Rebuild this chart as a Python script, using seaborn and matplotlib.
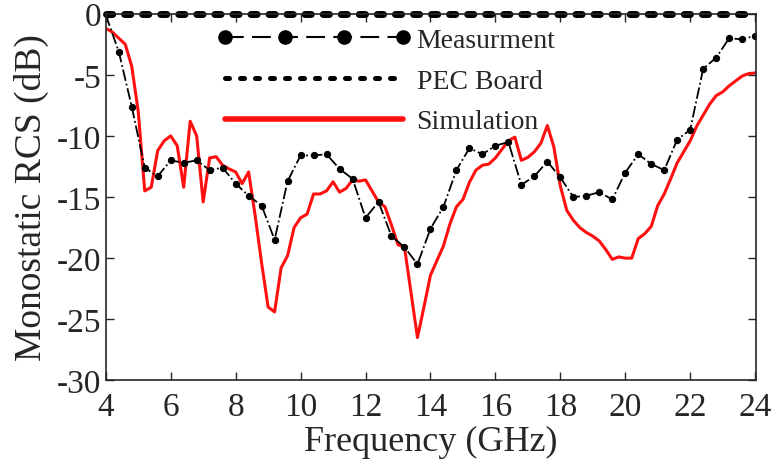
import numpy as np
import pandas as pd
import matplotlib
matplotlib.use("Agg")
import matplotlib.pyplot as plt
from matplotlib.lines import Line2D
import seaborn as sns

# measured RCS, 0.4 GHz steps
meas_freq = [4.0, 4.4, 4.8, 5.2, 5.6, 6.0, 6.4, 6.8, 7.2, 7.6, 8.0, 8.4, 8.8, 9.2, 9.6,
             10.0, 10.4, 10.8, 11.2, 11.6, 12.0, 12.4, 12.8, 13.2, 13.6, 14.0, 14.4, 14.8,
             15.2, 15.6, 16.0, 16.4, 16.8, 17.2, 17.6, 18.0, 18.4, 18.8, 19.2, 19.6, 20.0,
             20.4, 20.8, 21.2, 21.6, 22.0, 22.4, 22.8, 23.2, 23.6, 24.0]
meas_rcs = [-0.1, -3.1, -7.6, -12.6, -13.3, -12.0, -12.2, -12.0, -12.8, -12.6, -13.9,
            -14.9, -15.7, -18.5, -13.7, -11.6, -11.6, -11.5, -12.7, -13.5, -16.7, -15.4,
            -18.2, -19.1, -20.5, -17.6, -15.8, -12.8, -11.0, -11.5, -10.8, -10.5, -14.0,
            -13.3, -12.1, -13.4, -15.0, -14.9, -14.6, -15.2, -13.0, -11.5, -12.3, -12.8,
            -10.3, -9.5, -4.5, -3.6, -2.0, -2.1, -1.8]

# simulated RCS, 0.2 GHz steps
sim_freq = [round(4.0 + 0.2 * i, 1) for i in range(101)]
sim_rcs = [-1.2, -1.5, -2.0, -2.5, -4.3, -8.0, -14.5, -14.2, -11.2, -10.4, -10.0, -10.8,
           -14.2, -8.8, -10.0, -15.4, -11.8, -11.7, -12.4, -12.7, -12.95, -13.9, -12.95,
           -16.5, -20.4, -24.0, -24.4, -20.8, -19.8, -17.5, -16.7, -16.4, -14.75, -14.75,
           -14.5, -13.75, -14.6, -14.3, -13.6, -13.7, -13.6, -14.5, -15.4, -15.8, -17.3,
           -18.9, -19.1, -22.8, -26.5, -24.0, -21.4, -20.2, -19.0, -17.2, -15.8, -15.2,
           -13.8, -12.8, -12.4, -12.3, -11.8, -11.1, -10.4, -10.1, -12.0, -11.75, -11.3,
           -10.6, -9.15, -10.9, -14.1, -16.1, -16.9, -17.5, -17.9, -18.2, -18.6, -19.3,
           -20.1, -19.9, -20.0, -20.0, -18.4, -18.0, -17.4, -15.7, -14.75, -13.5, -12.2,
           -11.3, -10.4, -9.2, -8.3, -7.4, -6.7, -6.4, -5.9, -5.5, -5.1, -4.9, -4.85]

# PEC reference plate
pec_freq = [4.0, 24.0]
pec_rcs = [0.0, 0.0]

sns.set_style("ticks")
plt.rcParams["font.family"] = ["Liberation Serif", "DejaVu Serif"]
plt.rcParams["axes.unicode_minus"] = False

fig = plt.figure(figsize=(7.72, 4.6), dpi=100)
ax = fig.add_axes([0.137, 0.171, 0.842, 0.797])

sns.lineplot(x=sim_freq, y=sim_rcs, ax=ax, color="#ff1010", lw=2.2, legend=False)
sns.lineplot(x=meas_freq, y=meas_rcs, ax=ax, color="black", lw=1.3, linestyle="-.",
             marker="o", markersize=4.5, markerfacecolor="black", markeredgecolor="black",
             legend=False)
sns.lineplot(x=pec_freq, y=pec_rcs, ax=ax, color="black", lw=5, legend=False,
             clip_on=False)
ax.lines[-1].set_dashes([0.9, 1.7])
ax.lines[-1].set_dash_capstyle("round")

ax.set_xlim(4, 24.02)
ax.set_ylim(-30, 0)
ax.set_xticks(range(4, 25, 2))
ax.set_yticks(range(-30, 1, 5))
ax.tick_params(direction="in", top=True, right=True, length=6, width=1,
               labelsize=24)
ax.tick_params(axis="x", pad=8)
ax.tick_params(axis="y", pad=3)
for s in ax.spines.values():
    s.set_linewidth(1.2)
ax.set_xlabel("Frequency (GHz)", fontsize=26, labelpad=2)
ax.set_ylabel("Monostatic RCS (dB)", fontsize=27, labelpad=6)

handles = [
    Line2D([], [], color="black", lw=1.5, linestyle=(0, (9, 4)), marker="o",
           markersize=9.5),
    Line2D([], [], color="black", lw=3.6, linestyle=(0, (0.8, 2.2)),
           dash_capstyle="round"),
    Line2D([], [], color="#ff1010", lw=4, solid_capstyle="round"),
]
ax.legend(handles, ["Measurment", "PEC Board", "Simulation"], loc="upper left",
          bbox_to_anchor=(0.15, 1.0), frameon=False, fontsize=20, handlelength=7.0,
          handletextpad=0.18, labelspacing=0.55, numpoints=4, borderpad=0)

fig.savefig("out.png", dpi=100)
